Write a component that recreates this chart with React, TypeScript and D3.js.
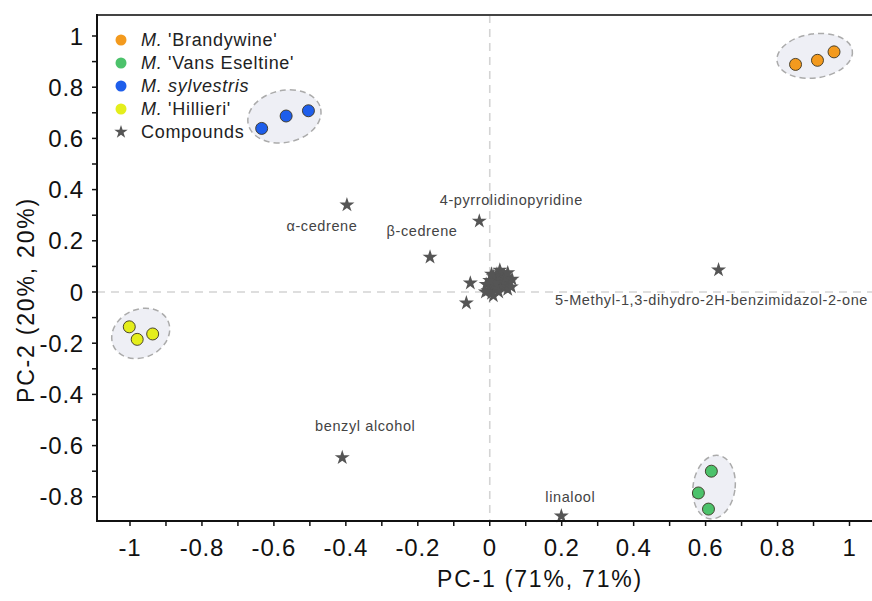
import React from "react";
import * as d3 from "d3";

// ---------- data ----------
const groupNames = ["Brandywine", "Vans Eseltine", "sylvestris", "Hillieri"];
const brandywine: [number, number][] = [[0.85, 0.889], [0.911, 0.905], [0.957, 0.938]];
const vansEseltine: [number, number][] = [[0.616, -0.70], [0.58, -0.785], [0.608, -0.848]];
const sylvestris: [number, number][] = [[-0.634, 0.639], [-0.566, 0.6875], [-0.504, 0.708]];
const hillieri: [number, number][] = [[-1.002, -0.136], [-0.98, -0.185], [-0.937, -0.164]];

const namedCompounds: { name: string; x: number; y: number }[] = [
  { name: "α-cedrene", x: -0.397, y: 0.34 },
  { name: "β-cedrene", x: -0.166, y: 0.136 },
  { name: "4-pyrrolidinopyridine", x: -0.029, y: 0.277 },
  { name: "benzyl alcohol", x: -0.41, y: -0.647 },
  { name: "linalool", x: 0.199, y: -0.875 },
  { name: "5-Methyl-1,3-dihydro-2H-benzimidazol-2-one", x: 0.636, y: 0.086 },
];
const clusterCompounds: [number, number][] = [
  [-0.054, 0.035], [-0.065, -0.043], [-0.005, 0.005], [0.0, 0.02], [0.005, -0.005],
  [0.01, 0.03], [0.015, 0.05], [0.02, 0.07], [0.025, 0.06], [0.03, 0.04],
  [0.035, 0.02], [0.04, 0.05], [0.045, 0.03], [0.05, 0.01], [0.02, 0.01],
  [0.01, 0.06], [0.03, 0.075], [-0.01, 0.03], [0.04, 0.065], [0.055, 0.04],
  [0.025, 0.0], [0.015, 0.035], [0.0, 0.045], [0.045, 0.055],
  [0.06, 0.02], [0.062, 0.05], [-0.012, 0.0], [0.028, 0.085], [0.01, -0.015],
  [0.05, 0.075], [0.005, 0.07],
];
const xTicks = [-1, -0.8, -0.6, -0.4, -0.2, 0, 0.2, 0.4, 0.6, 0.8, 1];
const yTicks = [-0.8, -0.6, -0.4, -0.2, 0, 0.2, 0.4, 0.6, 0.8, 1];
const xMinor = d3.range(-10, 11).map((i) => i / 10);
const yMinor = d3.range(-8, 11).map((i) => i / 10);
const xTitle = "PC-1 (71%, 71%)";
const yTitle = "PC-2 (20%, 20%)";

// ---------- styles ----------
const W = 872, H = 601;
const left = 97, right = 872, top = 15, bottom = 521;
const colors = ["#F39A1E", "#4CC26B", "#1E5EEB", "#E4EE1C"];
const groups = [brandywine, vansEseltine, sylvestris, hillieri];
// ellipse style: [dx, dy, rx, ry, rotation]
const ellipseStyle: [number, number, number, number, number][] = [
  [-1, -3, 38, 22, -8],
  [8, -4, 21, 32, 8],
  [-1, -2, 37, 26, -12],
  [1, 0, 30, 24, -25],
];
const labelOffsets: [number, number][] = [
  [-25, 26], [-8, -21], [32, -16], [23, -27], [9, -14], [-7, 35],
];
const font = "'Liberation Sans', Arial, Helvetica, sans-serif";

const x = d3.scaleLinear().domain([-1, 1]).range([130, 849.5]);
const y = d3.scaleLinear().domain([0, 1]).range([292, 36]);

const starPath = d3.symbol(d3.symbolStar, 70)()!;
const legendStar = d3.symbol(d3.symbolStar, 56)()!;
const fmt = (t: number) => String(t);

export default function App() {
  return (
    <svg width={W} height={H} style={{ position: "absolute", left: 0, top: 0, background: "#fff" }} fontFamily={font}>
      {/* zero reference lines */}
      <line x1={x(0)} x2={x(0)} y1={top} y2={bottom} stroke="#d4d4d4" strokeWidth={1.6} strokeDasharray="8,6" />
      <line x1={left} x2={right} y1={y(0)} y2={y(0)} stroke="#d4d4d4" strokeWidth={1.6} strokeDasharray="8,6" />

      {/* ellipses */}
      {groups.map((g, i) => {
        const cx = d3.mean(g, (d) => x(d[0]))! + ellipseStyle[i][0];
        const cy = d3.mean(g, (d) => y(d[1]))! + ellipseStyle[i][1];
        const [, , rx, ry, rot] = ellipseStyle[i];
        return (
          <ellipse key={i} cx={0} cy={0} rx={rx} ry={ry} transform={`translate(${cx},${cy}) rotate(${rot})`}
            fill="#eeeff5" stroke="#ababab" strokeWidth={1.5} strokeDasharray="6,4" />
        );
      })}

      {/* compounds */}
      {clusterCompounds.map((d, i) => (
        <path key={"c" + i} d={starPath} transform={`translate(${x(d[0])},${y(d[1])})`} fill="#555" />
      ))}
      {namedCompounds.map((d, i) => (
        <g key={"n" + i}>
          <path d={starPath} transform={`translate(${x(d.x)},${y(d.y)})`} fill="#555" />
          <text x={x(d.x) + labelOffsets[i][0]} y={y(d.y) + labelOffsets[i][1]} textAnchor="middle"
            fontSize={14.5} letterSpacing={0.6} fill="#444">{d.name}</text>
        </g>
      ))}

      {/* sample points */}
      {groups.map((g, i) =>
        g.map((d, j) => (
          <circle key={i + "-" + j} cx={x(d[0])} cy={y(d[1])} r={6} fill={colors[i]} stroke="#3a3320" strokeWidth={0.9} />
        ))
      )}

      {/* frame */}
      <line x1={left} x2={right} y1={top} y2={top} stroke="#444" strokeWidth={2} />
      <line x1={left} x2={left} y1={top - 1} y2={bottom + 1} stroke="#111" strokeWidth={2} />
      <line x1={left - 1} x2={right} y1={bottom} y2={bottom} stroke="#111" strokeWidth={2} />

      {/* ticks */}
      {xMinor.map((t) => (
        <line key={"xm" + t} x1={x(t)} x2={x(t)} y1={bottom} y2={bottom + 5} stroke="#111" strokeWidth={1.5} />
      ))}
      {yMinor.map((t) => (
        <line key={"ym" + t} x1={left - 5} x2={left} y1={y(t)} y2={y(t)} stroke="#111" strokeWidth={1.5} />
      ))}
      {xTicks.map((t) => (
        <text key={"xt" + t} x={x(t)} y={556} textAnchor="middle" fontSize={24} letterSpacing={0.8} fill="#111">
          {fmt(t)}
        </text>
      ))}
      {yTicks.map((t) => (
        <text key={"yt" + t} x={84} y={y(t)} dy="0.36em" textAnchor="end" fontSize={24} letterSpacing={0.8} fill="#111">
          {fmt(t)}
        </text>
      ))}

      {/* axis titles */}
      <text x={540} y={587} textAnchor="middle" fontSize={23} letterSpacing={1.8} fill="#111">{xTitle}</text>
      <text transform={`translate(34,300) rotate(-90)`} textAnchor="middle" fontSize={23} letterSpacing={1.8} fill="#111">{yTitle}</text>

      {/* legend */}
      {groupNames.map((n, i) => {
        const ly = 40 + i * 23;
        const italicName = n === "sylvestris";
        return (
          <g key={"lg" + i}>
            <circle cx={121} cy={ly} r={5.5} fill={colors[i]} />
            <text x={141} y={ly} dy="0.36em" fontSize={18} letterSpacing={0.7} fill="#222">
              <tspan fontStyle="italic">M.</tspan>
              {italicName ? <tspan fontStyle="italic">{" " + n}</tspan> : <tspan>{" '" + n + "'"}</tspan>}
            </text>
          </g>
        );
      })}
      <path d={legendStar} transform={`translate(121,${40 + 4 * 23})`} fill="#555" />
      <text x={141} y={40 + 4 * 23} dy="0.36em" fontSize={18} letterSpacing={0.7} fill="#222">Compounds</text>
    </svg>
  );
}
